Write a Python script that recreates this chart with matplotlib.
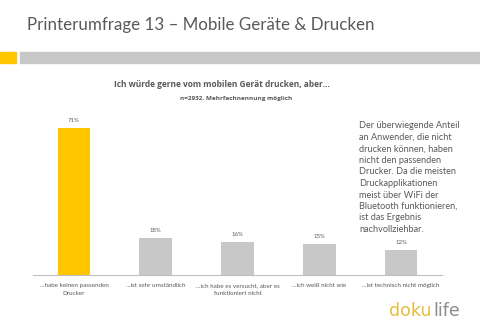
import matplotlib.pyplot as plt
from matplotlib.patches import Rectangle

# survey data
categories = ['...habe keinen passenden\nDrucker', '...ist sehr umständlich',
              '...ich habe es versucht, aber es\nfunktioniert nicht',
              '...ich weiß nicht wie', '...ist technisch nicht möglich']
values = [71, 18, 16, 15, 12]
value_labels = ['71%', '18%', '16%', '15%', '12%']
bar_colors = ['#FFC600', '#C8C8C8', '#C8C8C8', '#C8C8C8', '#C8C8C8']

note_lines = ['Der überwiegende Anteil', 'an Anwender, die nicht', 'drucken können, haben',
              'nicht den passenden', 'Drucker. Da die meisten', 'Druckapplikationen',
              'meist über WiFi der', 'Bluetooth funktionieren,', 'ist das Ergebnis',
              'nachvollziehbar.']

W, H = 480, 327
fig = plt.figure(figsize=(W / 100, H / 100), dpi=100)
fig.patch.set_facecolor('white')

def fx(px):
    return px / W

def fy(py):
    return 1 - py / H

# header
fig.text(fx(27), fy(25), 'Printerumfrage 13 – Mobile Geräte & Drucken', fontsize=12.2,
         family='Lato', color='#595959', va='center', ha='left')
fig.patches.append(Rectangle((fx(0), fy(63)), fx(16), 11 / H, transform=fig.transFigure,
                             color='#FFC600', zorder=0))
fig.patches.append(Rectangle((fx(20), fy(63)), fx(460), 11 / H, transform=fig.transFigure,
                             color='#C8C8C8', zorder=0))

# chart titles
fig.text(fx(222), fy(85), 'Ich würde gerne vom mobilen Gerät drucken, aber...', fontsize=6.0,
         family='Open Sans', weight='bold', color='#595959', ha='center', va='center')
fig.text(fx(236), fy(98), 'n=2932, Mehrfachnennung möglich', fontsize=4.6,
         family='Open Sans', weight='bold', color='#595959', ha='center', va='center')

# bars
ax = fig.add_axes([fx(33), fy(275), (442 - 33) / W, 165 / H])
x = list(range(len(values)))
ax.bar(x, values, width=0.4, color=bar_colors)
ax.set_xlim(-0.5, 4.5)
ax.set_ylim(0, 165 / 2.07)
for xi, v, lab in zip(x, values, value_labels):
    ax.text(xi, v + 2.5, lab, ha='center', va='bottom', fontsize=4.3, color='#595959',
            family='Lato')
for xi, cat in zip(x, categories):
    ax.text(xi, -4, cat, ha='center', va='top', fontsize=4.5, color='#595959',
            family='Lato', linespacing=1.6)
for s in ['top', 'right', 'left']:
    ax.spines[s].set_visible(False)
ax.spines['bottom'].set_color('#BFBFBF')
ax.spines['bottom'].set_linewidth(0.8)
ax.set_xticks([])
ax.set_yticks([])

# side note
for i, line in enumerate(note_lines):
    fig.text(fx(359), fy(126 + 11.5 * i), line, fontsize=6.6, family='Lato',
             color='#595959', ha='left', va='center')

# logo
fig.text(fx(432), fy(311), 'doku', fontsize=12.5, family='DejaVu Sans', color='#E6BC3A',
         ha='right', va='center')
fig.text(fx(433), fy(311), 'life', fontsize=12.5, family='DejaVu Sans', color='#8C8C8C',
         ha='left', va='center')

fig.savefig('out.png', dpi=100)
